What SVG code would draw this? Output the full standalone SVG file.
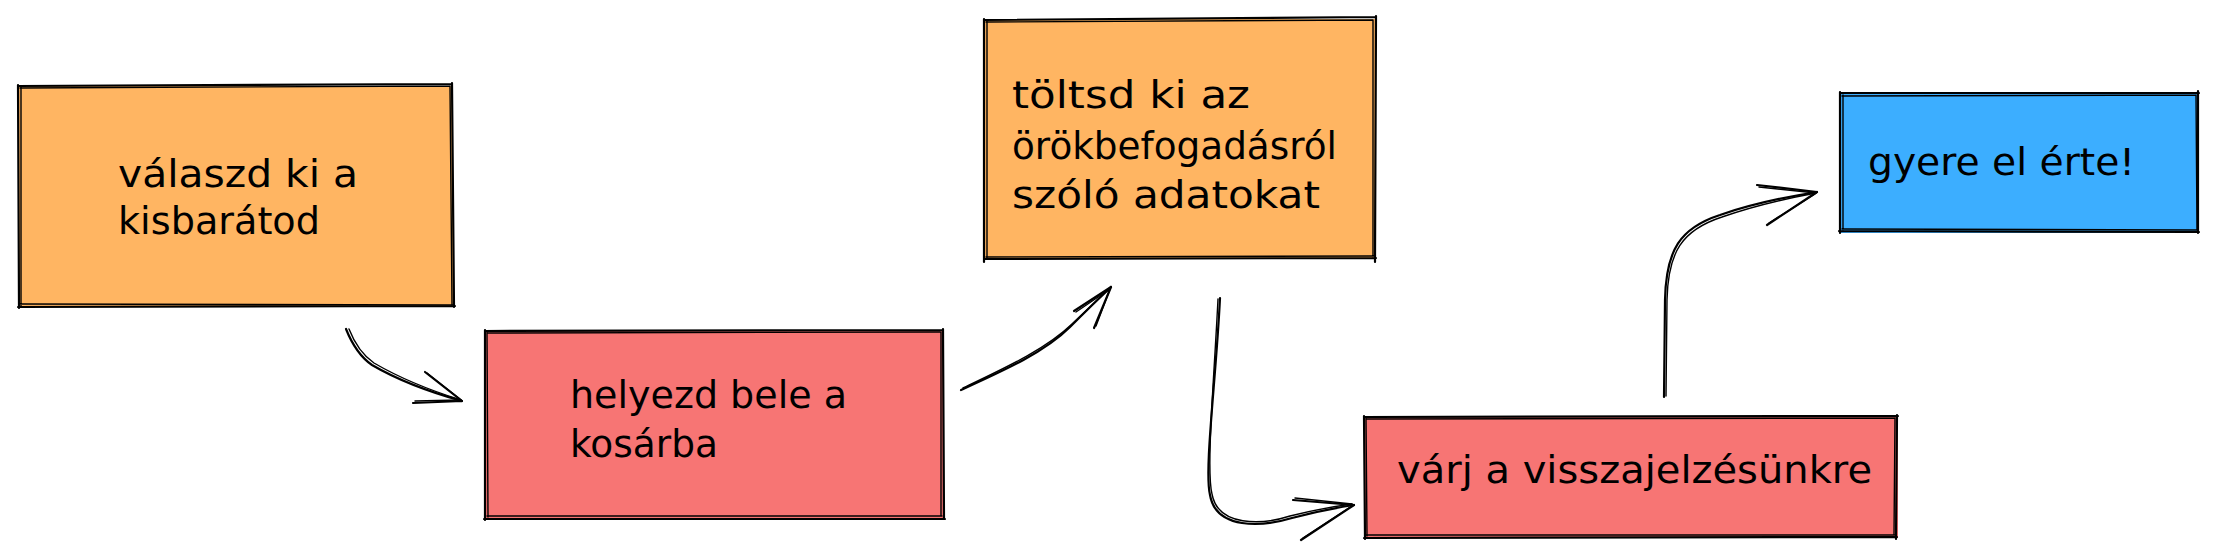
<svg xmlns="http://www.w3.org/2000/svg" width="2216" height="557" viewBox="0 0 2216 557">
<style>
.sk{fill:none;stroke:#000;stroke-width:2.2;stroke-linecap:round;stroke-linejoin:round}
.sk2{fill:none;stroke:#000;stroke-width:1.4;stroke-linecap:round;stroke-linejoin:round}
.t{font-family:"DejaVu Sans",sans-serif;font-size:37px;fill:#000}
.or{fill:#ffb562}
.rd{fill:#f77574}
.bl{fill:#3caeff}
</style>
<rect width="2216" height="557" fill="#fff"/>
<g id="node1">
<rect class="or" x="19" y="86" width="434" height="221"/>
<path class="sk" d="M18 86 L452 84 M452 83 L454 307 M455 306 L18 307 M19 308 L18 85"/>
<path class="sk2" d="M20 88 L450 86 M450 86 L452 305 M453 305 L20 304 M21 306 L21 87"/>
<text class="t" x="118" y="187" textLength="240" lengthAdjust="spacingAndGlyphs">válaszd ki a</text>
<text class="t" x="118" y="234" textLength="202" lengthAdjust="spacingAndGlyphs">kisbarátod</text>
</g>
<g id="node2">
<rect class="rd" x="486" y="330" width="457" height="188"/>
<path class="sk" d="M485 331 L943 330 M943 329 L944 518 M945 519 L484 519 M485 520 L485 330"/>
<path class="sk2" d="M487 333 L940 332 M941 332 L941 516 M942 516 L487 516 M488 517 L487 332"/>
<text class="t" x="570" y="408" textLength="277" lengthAdjust="spacingAndGlyphs">helyezd bele a</text>
<text class="t" x="570" y="457" textLength="148" lengthAdjust="spacingAndGlyphs">kosárba</text>
</g>
<g id="node3">
<rect class="or" x="985" y="19" width="391" height="240"/>
<path class="sk" d="M984 20 L1376 17 M1376 16 L1375 262 M1376 258 L984 259 M984 262 L984 19"/>
<path class="sk2" d="M986 22 L1373 20 M1373 20 L1373 257 M1374 256 L986 257 M987 258 L987 21"/>
<text class="t" x="1012" y="108" textLength="238" lengthAdjust="spacingAndGlyphs">töltsd ki az</text>
<text class="t" x="1012" y="159" textLength="325" lengthAdjust="spacingAndGlyphs">örökbefogadásról</text>
<text class="t" x="1012" y="208" textLength="308" lengthAdjust="spacingAndGlyphs">szóló adatokat</text>
</g>
<g id="node4">
<rect class="rd" x="1365" y="416" width="533" height="122"/>
<path class="sk" d="M1364 417 L1898 416 M1897 415 L1896 539 M1897 537 L1364 538 M1365 539 L1364 416"/>
<path class="sk2" d="M1366 419 L1895 418 M1895 418 L1894 535 M1895 535 L1366 535 M1367 536 L1366 418"/>
<text class="t" x="1397" y="483" textLength="475" lengthAdjust="spacingAndGlyphs">várj a visszajelzésünkre</text>
</g>
<g id="node5">
<rect class="bl" x="1840" y="92" width="359" height="141"/>
<path class="sk" d="M1840 93 L2199 93 M2198 91 L2198 233 M2199 232 L1839 231 M1840 233 L1840 92"/>
<path class="sk2" d="M1842 96 L2196 95 M2196 95 L2197 230 M2197 230 L1842 229 M1843 230 L1843 95"/>
<text class="t" x="1868" y="175" textLength="267" lengthAdjust="spacingAndGlyphs">gyere el érte!</text>
</g>
<g id="connectors">
<path class="sk" d="M346 329 Q356 354 372 365 Q408 386 462 401"/>
<path class="sk2" d="M349 329 Q358 352 374 363 Q410 384 461 400"/>
<path class="sk" d="M462 401 L413 403 M462 401 L425 372"/>
<path class="sk2" d="M461 400 L415 401 M460 399 L427 373"/>

<path class="sk" d="M961 390 C1005 370 1045 352 1070 327 Q1092 305 1111 287"/>
<path class="sk2" d="M963 388 C1007 367 1046 349 1072 324 Q1093 304 1110 288"/>
<path class="sk" d="M1111 287 L1074 311 M1111 287 L1094 328"/>
<path class="sk2" d="M1110 289 L1076 312 M1110 289 L1096 326"/>

<path class="sk" d="M1220 298 C1216 380 1204 470 1210 495 C1216 530 1262 527 1292 518 Q1322 510 1354 505"/>
<path class="sk2" d="M1218 299 C1214 380 1206 470 1212 494 C1218 527 1262 525 1290 516 Q1322 508 1352 504"/>
<path class="sk" d="M1354 505 L1293 500 M1354 505 L1301 540"/>
<path class="sk2" d="M1352 504 L1295 498 M1352 506 L1303 538"/>

<path class="sk" d="M1664 397 L1665 300 C1666 250 1680 228 1720 215 Q1760 201 1817 192"/>
<path class="sk2" d="M1666 396 L1667 300 C1668 252 1682 230 1722 217 Q1762 203 1816 193"/>
<path class="sk" d="M1817 192 L1757 185 M1817 192 L1767 225"/>
<path class="sk2" d="M1816 193 L1759 187 M1815 194 L1769 223"/>
</g>
</svg>
